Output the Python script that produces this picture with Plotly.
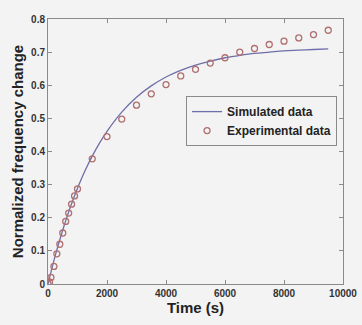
import plotly.graph_objects as go

# Simulated curve
sim_t = [0, 250, 500, 750, 1000, 1250, 1500, 1750, 2000, 2500, 3000, 3500, 4000,
         4500, 5000, 5500, 6000, 6500, 7000, 7500, 8000, 8500, 9000, 9500]
sim_y = [0, 0.087, 0.163, 0.230, 0.289, 0.341, 0.386, 0.426, 0.461, 0.519, 0.564, 0.598, 0.625,
         0.645, 0.661, 0.673, 0.683, 0.690, 0.696, 0.700, 0.704, 0.706, 0.708, 0.710]

# Experimental points
exp_t = [0, 50, 100, 200, 300, 400, 500, 600, 700, 800, 900, 1000, 1500, 2000, 2500, 3000,
         3500, 4000, 4500, 5000, 5500, 6000, 6500, 7000, 7500, 8000, 8500, 9000, 9500]
exp_y = [0.0, 0.006, 0.02, 0.053, 0.091, 0.12, 0.154, 0.189, 0.214, 0.241, 0.266, 0.287, 0.378,
         0.445, 0.498, 0.540, 0.574, 0.602, 0.628, 0.648, 0.667, 0.683, 0.700, 0.711, 0.723,
         0.733, 0.743, 0.753, 0.766]

x_ticks = [0, 2000, 4000, 6000, 8000, 10000]
y_ticks = [0, 0.1, 0.2, 0.3, 0.4, 0.5, 0.6, 0.7, 0.8]
y_tick_labels = ["0", "0.1", "0.2", "0.3", "0.4", "0.5", "0.6", "0.7", "0.8"]

FONT = "Liberation Sans, Arial, sans-serif"
BG = "#f3f3f3"

fig = go.Figure()
fig.add_trace(go.Scatter(x=sim_t, y=sim_y, mode="lines", name="<b>Simulated data</b>",
                         line=dict(color="#6e6eaa", width=1.3), line_shape="spline"))
fig.add_trace(go.Scatter(x=exp_t, y=exp_y, mode="markers", name="<b>Experimental data</b>",
                         marker=dict(symbol="circle-open", size=6, color="#b07070",
                                     line=dict(width=1.3, color="#b07070"))))

axis_common = dict(showgrid=False, zeroline=False, showline=True, linecolor="#8a8a8a",
                   linewidth=1, mirror="ticks", ticks="inside", ticklen=4, tickcolor="#8a8a8a",
                   tickfont=dict(family=FONT, size=10, color="#333333", weight="bold"))

fig.update_xaxes(range=[0, 10000], tickvals=x_ticks, ticktext=[str(v) for v in x_ticks],
                 title=dict(text="<b>Time (s)</b>", font=dict(family=FONT, size=15, color="#222"),
                            standoff=1),
                 **axis_common)
fig.update_yaxes(range=[0, 0.8], tickvals=y_ticks, ticktext=y_tick_labels,
                 title=dict(text="<b>Normalized frequency change</b>",
                            font=dict(family=FONT, size=15, color="#222"), standoff=3),
                 **axis_common)

fig.update_layout(
    width=362, height=325,
    margin=dict(l=48, r=19, t=19, b=41, autoexpand=False),
    paper_bgcolor=BG, plot_bgcolor=BG,
    showlegend=True,
    legend=dict(x=0.468, y=0.709, xanchor="left", yanchor="top",
                bgcolor=BG, bordercolor="#8a8a8a", borderwidth=1,
                font=dict(family=FONT, size=12, color="#222"),
                itemwidth=30, tracegroupgap=0),
)

fig.write_html("out.html", config={"displayModeBar": False},
               post_script="document.body.style.margin='0';")
